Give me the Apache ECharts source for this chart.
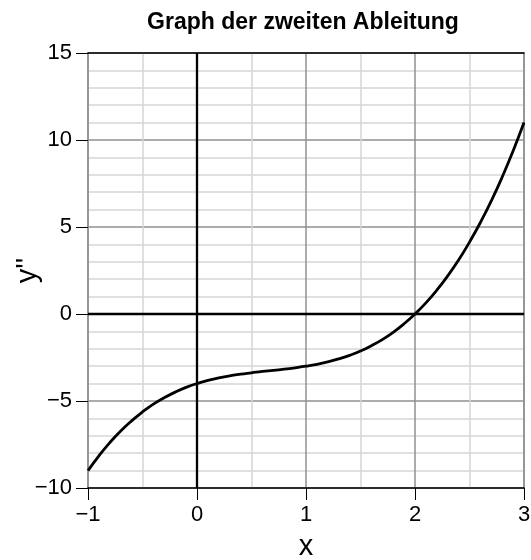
<!DOCTYPE html>
<html>
<head>
<meta charset="utf-8">
<script src="https://cdn.jsdelivr.net/npm/echarts@6/dist/echarts.min.js"></script>
<style>
  html, body { margin: 0; padding: 0; background: #fff; }
  #chart { width: 531px; height: 560px; }
</style>
</head>
<body>
<div id="chart"></div>
<script>
// Second derivative y'' sampled along x
const xValues = [-1.0, -0.9, -0.8, -0.7, -0.6, -0.5, -0.4, -0.3, -0.2, -0.1,
                 0.0, 0.1, 0.2, 0.3, 0.4, 0.5, 0.6, 0.7, 0.8, 0.9,
                 1.0, 1.1, 1.2, 1.3, 1.4, 1.5, 1.6, 1.7, 1.8, 1.9,
                 2.0, 2.1, 2.2, 2.3, 2.4, 2.5, 2.6, 2.7, 2.8, 2.9, 3.0];
const yValues = [-9.0, -8.15, -7.39, -6.72, -6.14, -5.63, -5.18, -4.81, -4.49, -4.22,
                 -4.0, -3.82, -3.67, -3.55, -3.46, -3.38, -3.30, -3.24, -3.17, -3.09,
                 -3.0, -2.89, -2.75, -2.58, -2.38, -2.13, -1.82, -1.47, -1.05, -0.56,
                 0.0, 0.64, 1.37, 2.19, 3.10, 4.13, 5.26, 6.50, 7.87, 9.37, 11.0];

const xTicks = [-1, 0, 1, 2, 3];
const yTicks = [-10, -5, 0, 5, 10, 15];

const FONT = '"Liberation Sans", Arial, sans-serif';
const minus = v => String(v).replace('-', '\u2212');

const chart = echarts.init(document.getElementById('chart'), null, { renderer: 'canvas' });

chart.setOption({
  animation: false,
  backgroundColor: '#ffffff',
  title: {
    text: 'Graph der zweiten Ableitung',
    left: 298,
    top: 6,
    textAlign: 'center',
    textStyle: { fontFamily: FONT, fontWeight: 'bold', fontSize: 23, color: '#000' }
  },
  grid: { left: 88, right: 7, top: 53, bottom: 72, containLabel: false, outerBoundsMode: 'none' },
  xAxis: [{
    type: 'value',
    min: xTicks[0], max: xTicks[xTicks.length - 1], interval: 1,
    name: 'x', nameLocation: 'middle', nameGap: 44, nameMoveOverlap: false,
    nameTextStyle: { fontFamily: FONT, fontSize: 29, color: '#000' },
    axisLine: { show: true, onZero: false, lineStyle: { color: '#000', width: 1.5 } },
    axisTick: { show: true, length: 12, lineStyle: { color: '#000', width: 1 } },
    axisLabel: { fontFamily: FONT, fontSize: 22, color: '#000', margin: 16, formatter: minus },
    splitLine: { show: true, lineStyle: { color: '#909090', width: 1.5 } },
    minorTick: { show: false, splitNumber: 2 },
    minorSplitLine: { show: true, lineStyle: { color: '#d6d6d6', width: 1.5 } }
  }, {
    type: 'value', position: 'top',
    min: xTicks[0], max: xTicks[xTicks.length - 1], interval: 1,
    axisLine: { show: true, onZero: false, lineStyle: { color: '#000', width: 1.5 } },
    axisTick: { show: false }, axisLabel: { show: false }, splitLine: { show: false }
  }],
  yAxis: [{
    type: 'value',
    min: yTicks[0], max: yTicks[yTicks.length - 1], interval: 5,
    name: "y''", nameLocation: 'middle', nameGap: 46, nameRotate: 90, nameMoveOverlap: false,
    nameTextStyle: { fontFamily: FONT, fontSize: 29, color: '#000' },
    axisLine: { show: true, onZero: false, lineStyle: { color: '#909090', width: 1.5 } },
    axisTick: { show: true, length: 12, lineStyle: { color: '#000', width: 1 } },
    axisLabel: { fontFamily: FONT, fontSize: 22, color: '#000', margin: 16, formatter: minus },
    splitLine: { show: true, lineStyle: { color: '#909090', width: 1.5 } },
    minorTick: { show: false, splitNumber: 5 },
    minorSplitLine: { show: true, lineStyle: { color: '#d6d6d6', width: 1.5 } }
  }, {
    type: 'value', position: 'right',
    min: yTicks[0], max: yTicks[yTicks.length - 1], interval: 5,
    axisLine: { show: true, onZero: false, lineStyle: { color: '#909090', width: 1.5 } },
    axisTick: { show: false }, axisLabel: { show: false }, splitLine: { show: false }
  }],
  series: [{
    type: 'line',
    data: xValues.map((x, i) => [x, yValues[i]]),
    smooth: true,
    showSymbol: false,
    clip: true,
    lineStyle: { color: '#000', width: 2.8 },
    z: 5,
    markLine: {
      silent: true,
      symbol: ['none', 'none'],
      label: { show: false },
      lineStyle: { color: '#000', width: 2.3, type: 'solid' },
      data: [{ xAxis: 0 }, { yAxis: 0 }]
    }
  }]
});
</script>
</body>
</html>
